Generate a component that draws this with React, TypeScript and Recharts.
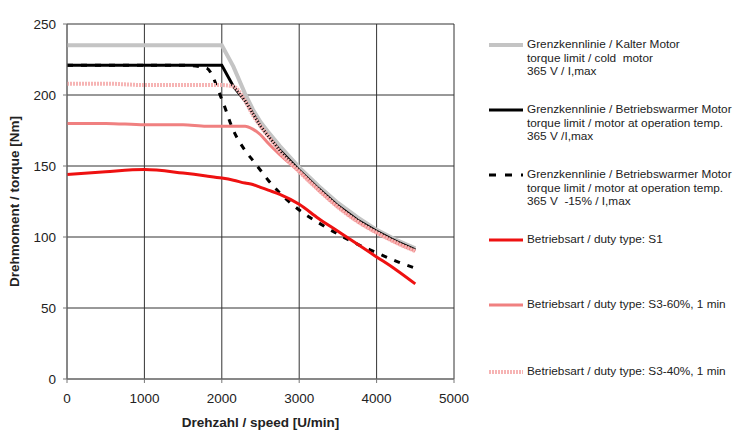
import React from 'react';
import { LineChart, Line, XAxis, YAxis, CartesianGrid, Label } from 'recharts';

// speed [U/min] sample points shared by all curves
const speeds = [0, 500, 1000, 1500, 1800, 2000, 2150, 2300, 2400, 2500, 2600, 2750, 3000, 3250, 3500, 3750, 4000, 4250, 4500];

// torque [Nm] per curve
const coldMotor = [235, 235, 235, 235, 235, 235, 220, 201, 190, 181, 174, 164, 149, 136, 124, 114, 105, 98, 92];
const warmMotor = [221, 221, 221, 221, 221, 221, 206, 196, 187, 178, 171, 161, 147, 134, 122, 112, 104, 97, 91];
const warmMinus15 = [221, 221, 221, 221, 219, 197, 175, 161, 154, 147, 140, 131, 119, 110, 102, 95, 89, 83, 78];
const dutyS1 = [144, 146, 147.5, 145, 143, 141.5, 140, 138, 137, 135, 133, 130, 123, 113, 104, 95, 86, 77, 67];
const dutyS360 = [180, 180, 179, 179, 178, 178, 178, 178, 176, 172, 166, 158, 146, 133, 121, 111, 103, 96, 90];
const dutyS340 = [208, 208, 207, 207, 207, 207, 206, 196, 186, 178, 171, 160, 146, 133, 121, 111, 103, 96, 90];

const xTicks = [0, 1000, 2000, 3000, 4000, 5000];
const yTicks = [0, 50, 100, 150, 200, 250];

const legendLabels = [
  ['Grenzkennlinie / Kalter Motor', 'torque limit / cold  motor', '365 V / I,max'],
  ['Grenzkennlinie / Betriebswarmer Motor', 'torque limit / motor at operation temp.', '365 V /I,max'],
  ['Grenzkennlinie / Betriebswarmer Motor', 'torque limit / motor at operation temp.', '365 V  -15% / I,max'],
  ['Betriebsart / duty type: S1'],
  ['Betriebsart / duty type: S3-60%, 1 min'],
  ['Betriebsart / duty type: S3-40%, 1 min'],
];

const data = speeds.map((speed, i) => ({
  speed,
  cold: coldMotor[i],
  warm: warmMotor[i],
  warm15: warmMinus15[i],
  s1: dutyS1[i],
  s360: dutyS360[i],
  s340: dutyS340[i],
}));

const series = [
  { key: 'cold', color: '#c4c4c4', width: 4, dash: undefined, type: 'linear' },
  { key: 'warm', color: '#000000', width: 3, dash: undefined, type: 'linear' },
  { key: 'warm15', color: '#000000', width: 3, dash: '6 8', type: 'monotone' },
  { key: 's1', color: '#ee1111', width: 3, dash: undefined, type: 'monotone' },
  { key: 's360', color: '#f08080', width: 3, dash: undefined, type: 'monotone' },
  { key: 's340', color: '#f6b4b4', width: 4, dash: '2 1', type: 'monotone' },
];

const legendTops = [45, 110, 175, 240, 305, 372];
const font = '"Liberation Sans", Arial, sans-serif';

const ChartLegend = () => (
  <div style={{ position: 'absolute', left: 487, top: 0, width: 247, height: 432, fontFamily: font }}>
    {series.map((s, i) => (
      <div key={s.key} style={{ position: 'absolute', left: 0, top: legendTops[i] - 7 }}>
        <svg width={38} height={14} style={{ position: 'absolute', left: 0, top: 0 }}>
          <line x1={2} x2={36} y1={7} y2={7} stroke={s.color} strokeWidth={s.width} strokeDasharray={s.key === 'warm15' ? '7 9' : s.dash} />
        </svg>
        <div style={{ position: 'absolute', left: 40, top: 0, fontSize: 11.8, lineHeight: '13.5px', color: '#222', whiteSpace: 'pre' }}>
          {legendLabels[i].map((t, j) => (
            <div key={j}>{t}</div>
          ))}
        </div>
      </div>
    ))}
  </div>
);

export default function App() {
  return (
    <div style={{ position: 'absolute', left: 0, top: 0, width: 734, height: 432, background: '#fff' }}>
      <LineChart width={734} height={432} data={data} margin={{ top: 24, right: 280, left: 22, bottom: 23 }}>
        <CartesianGrid stroke="#333" strokeWidth={1} horizontalValues={yTicks} verticalValues={xTicks} />
        <XAxis
          dataKey="speed"
          type="number"
          domain={[0, 5000]}
          ticks={xTicks}
          height={30}
          stroke="#777"
          tickSize={4}
          tickMargin={10}
          tick={{ fill: '#222', fontSize: 13.5, fontFamily: font }}
        >
          <Label value="Drehzahl / speed [U/min]" position="bottom" offset={8} style={{ fontWeight: 'bold', fontSize: 13.5, fill: '#222', fontFamily: font }} />
        </XAxis>
        <YAxis
          type="number"
          domain={[0, 250]}
          ticks={yTicks}
          width={45}
          stroke="#777"
          tickSize={4}
          tickMargin={7}
          tick={{ fill: '#222', fontSize: 13.5, fontFamily: font }}
        >
          <Label value="Drehmoment / torque [Nm]" angle={-90} position="insideLeft" offset={-8} style={{ fontWeight: 'bold', fontSize: 13.5, fill: '#222', fontFamily: font, textAnchor: 'middle' }} />
        </YAxis>
        {series.map((s) => (
          <Line
            key={s.key}
            dataKey={s.key}
            type={s.type as 'linear' | 'monotone'}
            stroke={s.color}
            strokeWidth={s.width}
            strokeDasharray={s.dash}
            dot={false}
            activeDot={false}
            isAnimationActive={false}
          />
        ))}
      </LineChart>
      <ChartLegend />
    </div>
  );
}
